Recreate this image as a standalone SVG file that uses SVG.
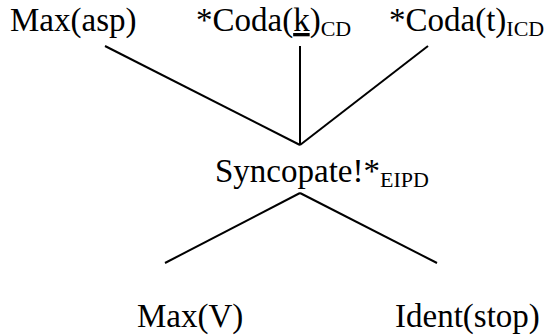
<svg xmlns="http://www.w3.org/2000/svg" width="548" height="335" viewBox="0 0 548 335">
  <style>
    .lbl { font-family: "Liberation Serif", "Times New Roman", serif; font-size: 33px; fill: #000; }
    .sub { font-size: 22px; }
    .edge { stroke: #000; stroke-width: 2; fill: none; }
  </style>
  <rect width="548" height="335" fill="#fff"/>
  <g id="connectors">
    <line class="edge" x1="105" y1="46" x2="300" y2="145"/>
    <line class="edge" x1="300" y1="46" x2="300" y2="145"/>
    <line class="edge" x1="428" y1="46" x2="300" y2="145"/>
    <line class="edge" x1="300" y1="193" x2="165" y2="263"/>
    <line class="edge" x1="300" y1="193" x2="437" y2="263"/>
  </g>
  <g id="max-asp">
    <text class="lbl" x="10" y="31">Max(asp)</text>
  </g>
  <g id="coda-k">
    <text class="lbl" x="196" y="31">*Coda(<tspan text-decoration="underline">k</tspan>)<tspan class="sub" dy="5">CD</tspan></text>
  </g>
  <g id="coda-t">
    <text class="lbl" x="389" y="31">*Coda(t)<tspan class="sub" dy="5">ICD</tspan></text>
  </g>
  <g id="syncopate">
    <text class="lbl" x="215" y="182">Syncopate!*<tspan class="sub" dy="5">EIPD</tspan></text>
  </g>
  <g id="max-v">
    <text class="lbl" x="137" y="327">Max(V)</text>
  </g>
  <g id="ident-stop">
    <text class="lbl" x="395" y="327">Ident(stop)</text>
  </g>
</svg>
